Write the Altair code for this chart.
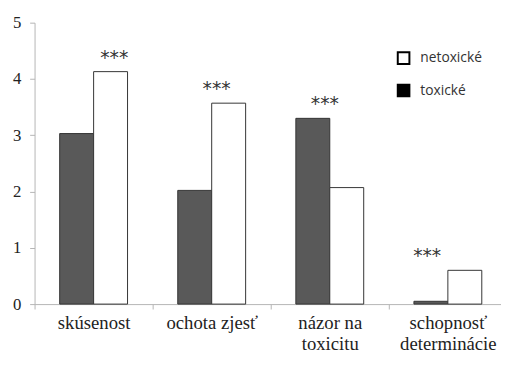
import altair as alt
import pandas as pd

categories = ["skúsenost", "ochota zjesť", "názor na\ntoxicitu", "schopnosť\ndeterminácie"]
toxicke = [3.03, 2.02, 3.30, 0.05]
netoxicke = [4.13, 3.57, 2.07, 0.60]
significance = ["***", "***", "***", "***"]
series_order = ["toxické", "netoxické"]
legend_order = ["netoxické", "toxické"]

rows = []
for c, t, n in zip(categories, toxicke, netoxicke):
    rows.append({"category": c, "series": "toxické", "value": t})
    rows.append({"category": c, "series": "netoxické", "value": n})
df = pd.DataFrame(rows)

ann = pd.DataFrame({
    "category": categories,
    "label": significance,
    "top": [max(t, n) for t, n in zip(toxicke, netoxicke)],
})

gray = "#b5b5b5"
serif = "Liberation Serif"

x_enc = alt.X(
    "category:N",
    sort=categories,
    scale=alt.Scale(paddingInner=0, paddingOuter=0),
    axis=alt.Axis(
        title=None, labelAngle=0, tickBand="extent",
        labelExpr="split(datum.label, '\\n')",
        labelFontSize=19, labelPadding=5, labelLineHeight=21, labelBaseline="top",
    ),
)
y_enc = alt.Y("value:Q", scale=alt.Scale(domain=[0, 5], nice=False),
              axis=alt.Axis(values=[0, 1, 2, 3, 4, 5], format="d", title=None, grid=False,
                            labelFontSize=17, labelPadding=9))
xoff = alt.XOffset("series:N", sort=series_order,
                   scale=alt.Scale(paddingOuter=0.74, paddingInner=0))

bars = alt.Chart(df).mark_bar(stroke="#333", strokeWidth=1).encode(
    x=x_enc, xOffset=xoff, y=y_enc,
    fill=alt.Fill("series:N",
                  scale=alt.Scale(domain=legend_order, range=["white", "#595959"]),
                  legend=None),
)

legend_layer = alt.Chart(df).mark_square(opacity=0).encode(
    x=alt.X("category:N", sort=categories), xOffset=xoff, y="value:Q",
    fill=alt.Fill("series:N",
                  scale=alt.Scale(domain=legend_order, range=["white", "black"]),
                  legend=alt.Legend(
                      title=None, orient="none", legendX=368, legendY=29,
                      symbolType="square", symbolSize=140, symbolOpacity=1,
                      symbolStrokeColor="black", symbolStrokeWidth=2,
                      labelFont="Open Sans", labelFontSize=14, labelColor="#333",
                      labelOffset=10, rowPadding=13, padding=0,
                  )),
)

star_dx = [21, 5, -5, -21]
texts = []
for c, d in zip(categories, star_dx):
    texts.append(
        alt.Chart(ann).transform_filter(alt.datum.category == c)
        .mark_text(dx=d, dy=-8, font="DejaVu Sans", fontSize=19, color="#333",
                   baseline="alphabetic")
        .encode(x=alt.X("category:N", sort=categories), y="top:Q", text="label:N")
    )

chart = alt.layer(bars, legend_layer, *texts).resolve_scale(fill="independent").properties(
    width=480, height=286,
    padding={"left": 27, "top": 12, "right": -6, "bottom": 60},
    autosize="none",
).configure_view(stroke=None).configure_axis(
    labelFont=serif, labelColor="#222",
    tickSize=5, tickColor=gray, domainColor=gray,
)

chart.save("out.html", embed_options={"renderer": "svg", "actions": False})
